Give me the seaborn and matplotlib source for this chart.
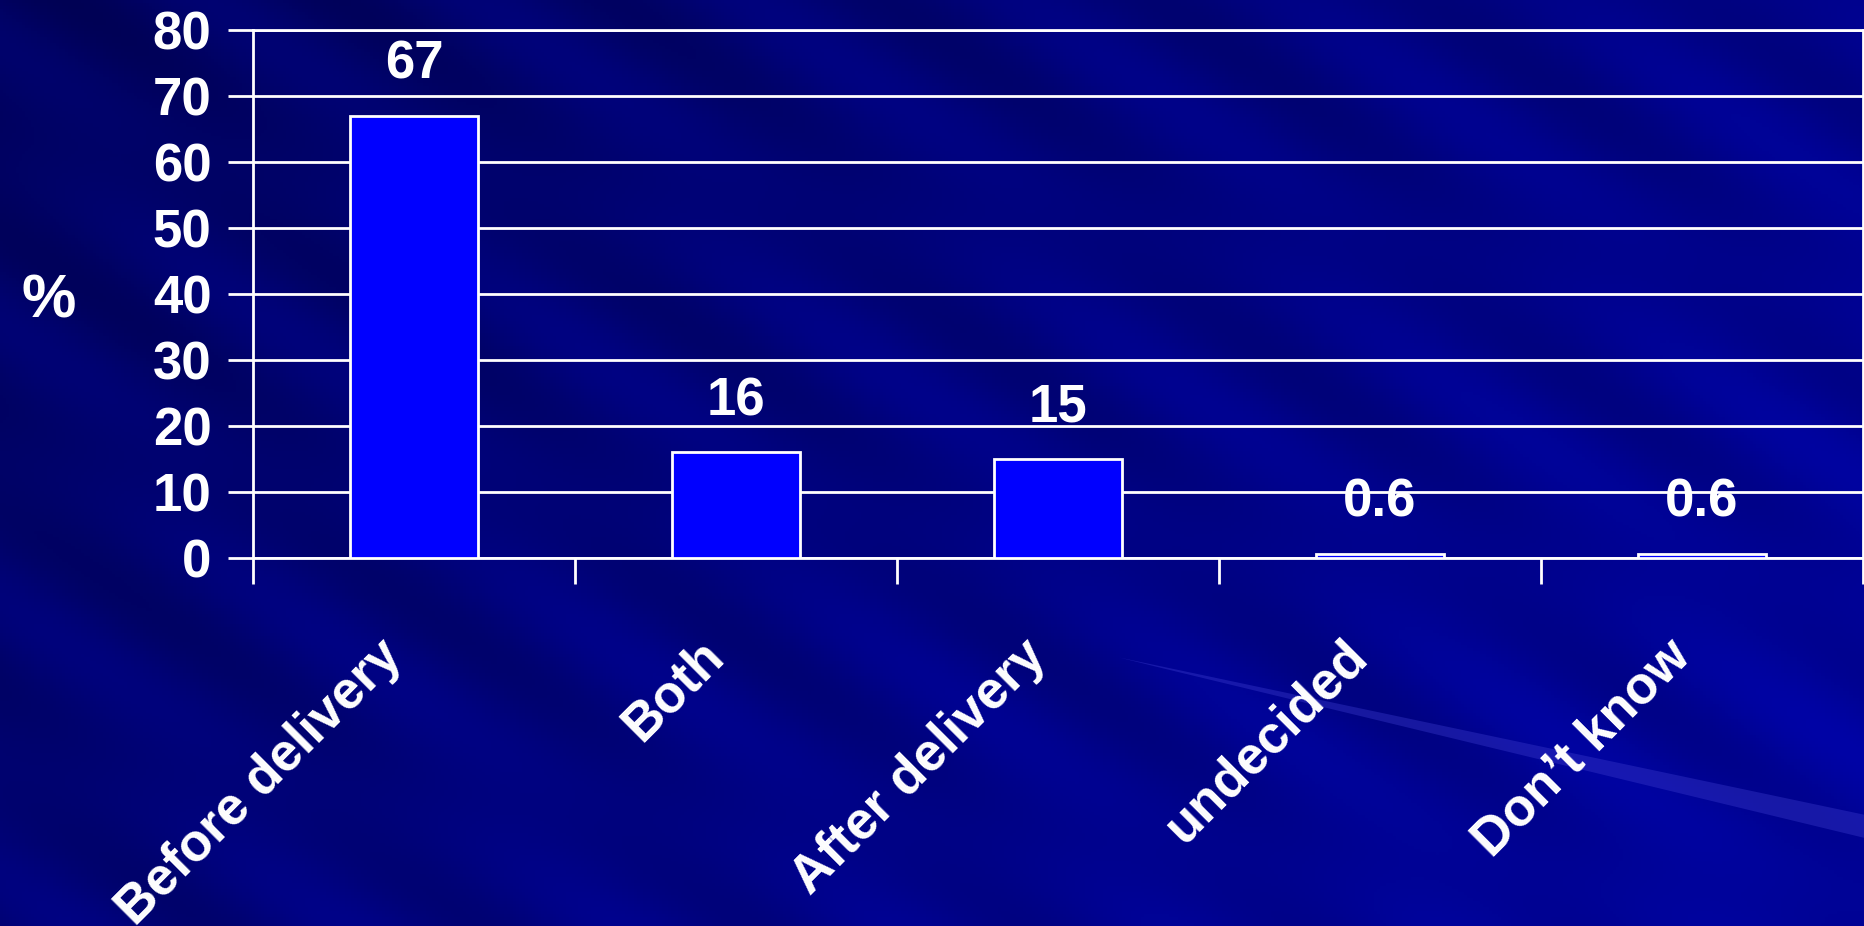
import numpy as np
import matplotlib.pyplot as plt
import matplotlib.transforms as mtransforms
import seaborn as sns
from matplotlib.ticker import FixedLocator

# Chart data
categories = ['Before delivery', 'Both', 'After delivery', 'undecided', 'Don’t know']
percent = [67, 16, 15, 0.6, 0.6]
value_labels = ['67', '16', '15', '0.6', '0.6']
y_ticks = [0, 10, 20, 30, 40, 50, 60, 70, 80]

sns.set_theme(style='dark')
plt.rcParams['font.family'] = ['Liberation Sans', 'DejaVu Sans']
plt.rcParams['font.weight'] = 'bold'

fig = plt.figure(figsize=(18.65, 9.26), dpi=100)
fig.patch.set_facecolor('#000080')

# slide-like background: navy gradient with faint diagonal streaks
bg = fig.add_axes([0, 0, 1, 1], zorder=-1)
gx, gy = np.meshgrid(np.linspace(0, 1, 600), np.linspace(0, 1, 300))
t = np.clip(0.55 * gx + 0.27 * (1 - gy) + 0.25, 0, 1)
streak = 0.03 * np.sin((gx * 1.9 + gy * 1.0) * 22) + 0.02 * np.sin((gx * 1.2 + gy * 1.1) * 37)
blue = np.clip(0.30 + 0.30 * t + streak, 0, 1)
img = np.dstack([np.zeros_like(blue), blue * 0.02, blue])
bg.imshow(img, extent=[0, 1, 0, 1], origin='lower', aspect='auto')
# bright streak at lower right
bg.fill([0.60, 1.0, 1.0, 0.62], [0.29, 0.12, 0.095, 0.28], color='#3a3acc', alpha=0.4, lw=0)
bg.set_xlim(0, 1)
bg.set_ylim(0, 1)
bg.axis('off')

ax = fig.add_axes([0.1357, 0.3974, 0.8632, 0.5702])
ax.set_facecolor('none')

sns.barplot(x=categories, y=percent, color='#0000ff', saturation=1,
            edgecolor='white', linewidth=2, width=0.4, ax=ax, zorder=3)

ax.set_ylim(0, 80)
ax.set_xlim(-0.5, len(categories) - 0.5)
ax.set_yticks(y_ticks)
ax.yaxis.grid(True, color='white', linewidth=2)
ax.xaxis.grid(False)
ax.set_axisbelow(True)
for s in ax.spines.values():
    s.set_visible(True)
    s.set_color('white')
    s.set_linewidth(2)

ax.tick_params(axis='y', colors='white', labelsize=38, length=18, width=2,
               pad=12, left=True)
ax.tick_params(axis='x', which='major', colors='white', labelsize=38,
               length=0, pad=70)
ax.xaxis.set_minor_locator(FixedLocator(np.arange(-0.5, len(categories), 1.0)))
ax.tick_params(axis='x', which='minor', colors='white', length=19, width=2,
               bottom=True)
shift = mtransforms.ScaledTranslation(-20 / 100, 7 / 100, fig.dpi_scale_trans)
for lab in ax.get_xticklabels():
    lab.set_rotation(45)
    lab.set_ha('right')
    lab.set_va('center')
    lab.set_rotation_mode('anchor')
    lab.set_fontweight('bold')
    lab.set_color('white')
    lab.set_transform(lab.get_transform() + shift)
for lab in ax.get_yticklabels():
    lab.set_fontweight('bold')

ax.bar_label(ax.containers[0], labels=value_labels, padding=19,
             color='white', fontsize=38, fontweight='bold')

ax.set_xlabel('')
ax.set_ylabel('%', rotation=0, color='white', fontsize=44, fontweight='bold')
ax.yaxis.set_label_coords(-0.127, 0.43)

fig.savefig('out.png', dpi=100, facecolor=fig.get_facecolor())
